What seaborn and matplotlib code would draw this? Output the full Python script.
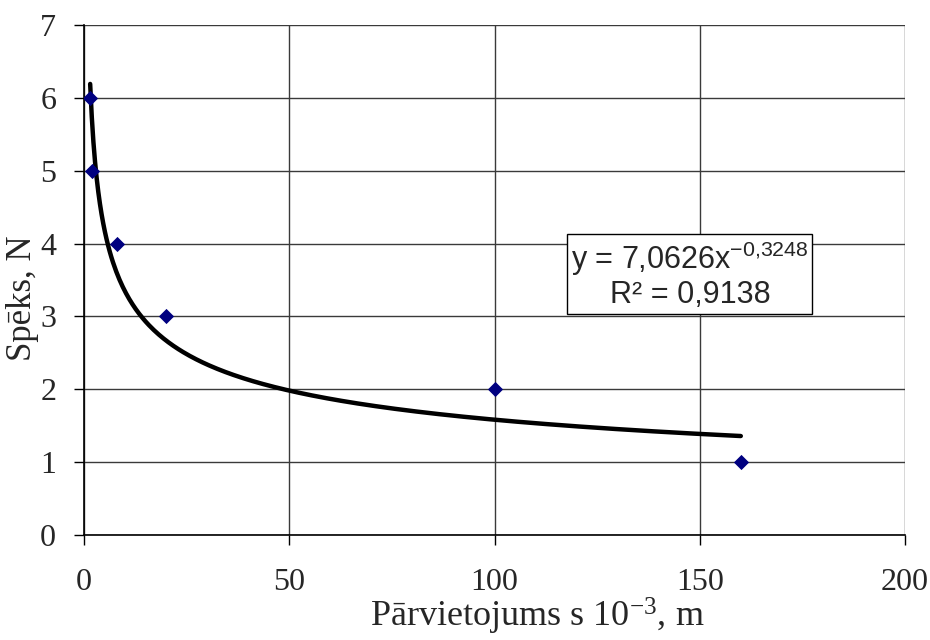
import numpy as np
import pandas as pd
import matplotlib
matplotlib.use("Agg")
import matplotlib.pyplot as plt
import seaborn as sns

# measured points: displacement (x 10^-3 m) and force (N)
displacement = [1.5, 2, 8, 20, 100, 160]
force = [6, 5, 4, 3, 2, 1]

x_ticks = [0, 50, 100, 150, 200]
y_ticks = [0, 1, 2, 3, 4, 5, 6, 7]

x_label = "Pārvietojums s 10$\\mathregular{^{-3}}$, m"
y_label = "Spēks, N"

sns.set_style("white")
plt.rcParams["font.family"] = ["Liberation Serif", "DejaVu Serif"]

df = pd.DataFrame({"s": displacement, "F": force})

# power trendline, fitted in log-log space like a spreadsheet does
b, ln_a = np.polyfit(np.log(df["s"]), np.log(df["F"]), 1)
a = np.exp(ln_a)
pred = ln_a + b * np.log(df["s"])
ss_res = np.sum((np.log(df["F"]) - pred) ** 2)
ss_tot = np.sum((np.log(df["F"]) - np.log(df["F"]).mean()) ** 2)
r2 = 1 - ss_res / ss_tot

s_fit = np.linspace(min(displacement), max(displacement), 400)
trend = pd.DataFrame({"s": s_fit, "F": a * s_fit ** b})

fig = plt.figure(figsize=(9.3, 6.4), dpi=100)
ax = fig.add_axes([84 / 930, 105 / 640, 821 / 930, 510 / 640])

sns.lineplot(data=trend, x="s", y="F", ax=ax, color="black", lw=3.2,
             sort=False, estimator=None, zorder=3)
sns.scatterplot(data=df, x="s", y="F", ax=ax, marker="D", s=60,
                color="#000080", edgecolor="#000080", linewidth=0, zorder=4)

ax.set_xlim(0, 200)
ax.set_ylim(0, 7)
ax.set_xticks(x_ticks)
ax.set_yticks(y_ticks)
ax.grid(True, color="#3a3a3a", lw=1.0)
ax.set_axisbelow(True)

for side in ["top", "right"]:
    ax.spines[side].set_visible(False)
for side in ["left", "bottom"]:
    ax.spines[side].set_color("black")
    ax.spines[side].set_linewidth(1.2)

ax.tick_params(axis="y", direction="out", length=7, width=1, color="black",
               pad=13, labelsize=23, left=True)
ax.tick_params(axis="x", direction="out", length=7, width=1, color="black",
               pad=17, labelsize=23, bottom=True)

ax.set_xlabel("")
ax.set_ylabel("")
fig.text(537 / 930, 0.004, x_label, ha="center", va="bottom", fontsize=26)
fig.text(0.024, 0.534, y_label, ha="center", va="center", rotation=90,
         fontsize=25)


def comma(v, math=False):
    txt = f"{v:.4f}".replace(".", ",")
    return txt.replace(",", "{,}") if math else txt


eq = (f"y = {comma(a)}x$\\mathregular{{^{{{comma(b, True)}}}}}$\n"
      f"R² = {comma(r2)}")
ax.text(147.6, 3.57, eq, ha="center", va="center", fontsize=22,
        family=["Liberation Sans", "DejaVu Sans"], linespacing=1.1,
        zorder=5,
        bbox=dict(boxstyle="square,pad=0.12", facecolor="white",
                  edgecolor="black", lw=1))

fig.savefig("out.png", dpi=100)
